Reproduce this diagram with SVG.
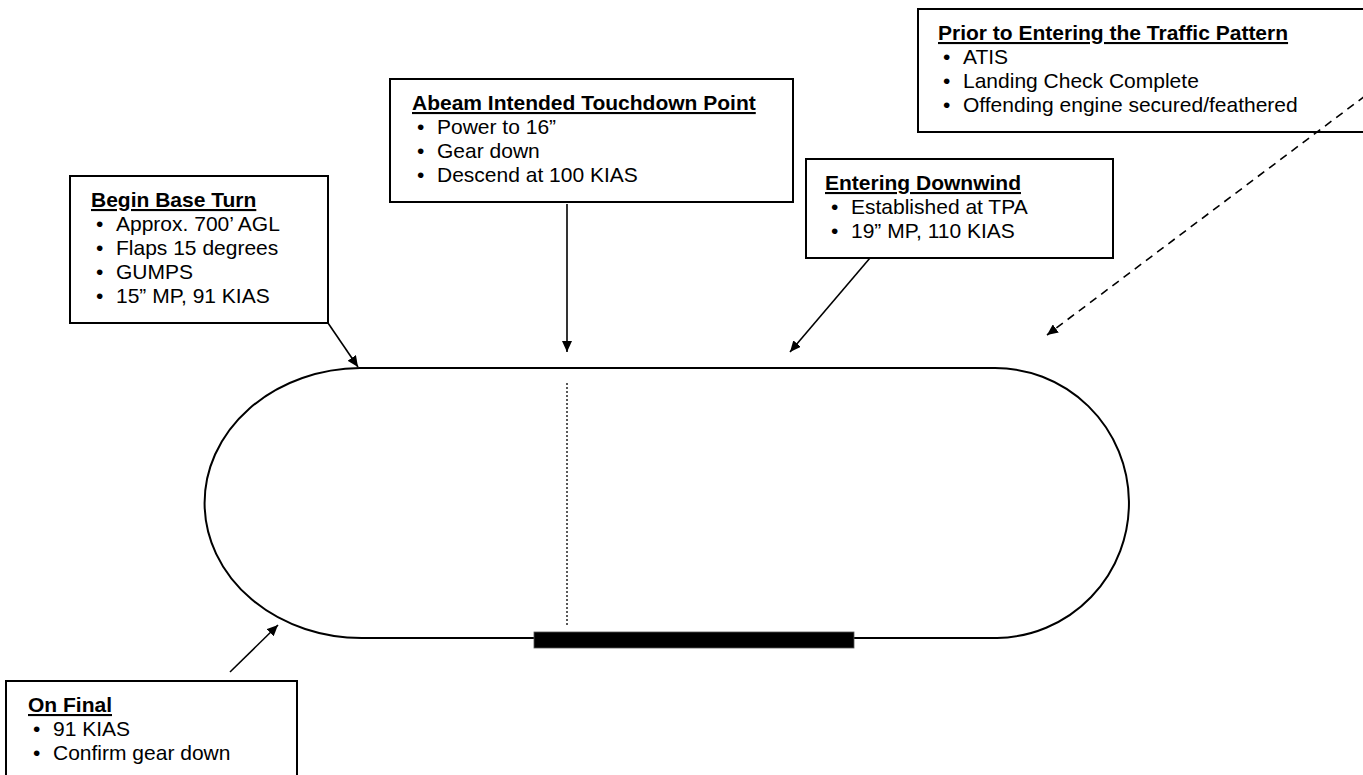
<svg xmlns="http://www.w3.org/2000/svg" width="1363" height="775" viewBox="0 0 1363 775">
<style>
.box{fill:#fff;stroke:#000;stroke-width:2}
.t{font-family:"Liberation Sans",Arial,sans-serif;font-size:21px;fill:#000}
.h{font-weight:bold;text-decoration:underline}
.c{stroke:#000;stroke-width:1.6;fill:none}
.track{stroke:#000;stroke-width:2;fill:none}
</style>
<defs>
<marker id="ah" markerUnits="userSpaceOnUse" markerWidth="12" markerHeight="10" refX="11" refY="5" orient="auto">
<path d="M0,0 L11,5 L0,10 Z" fill="#000"/>
</marker>
</defs>
<rect width="1363" height="775" fill="#fff"/>
<g id="pattern">
<path class="track" d="M360,368 L993,368 A134,135 0 0 1 997,638 L854,638 M534,638 L363,638 A157,135 0 0 1 360,368"/>
<rect id="runway" x="534" y="632" width="320" height="16" fill="#000" stroke="#555" stroke-width="0.8"/>
<line x1="567" y1="383" x2="567" y2="625" stroke="#000" stroke-width="1.3" stroke-dasharray="2 2"/>
</g>
<g id="prior">
<rect class="box" x="918" y="9" width="460" height="123"/>
<text class="t h" x="938" y="40">Prior to Entering the Traffic Pattern</text>
<text class="t" x="943" y="64">•</text><text class="t" x="963" y="64">ATIS</text>
<text class="t" x="943" y="88">•</text><text class="t" x="963" y="88">Landing Check Complete</text>
<text class="t" x="943" y="112">•</text><text class="t" x="963" y="112">Offending engine secured/feathered</text>
</g>
<g id="abeam">
<rect class="box" x="390" y="79" width="403" height="123"/>
<text class="t h" x="412" y="110">Abeam Intended Touchdown Point</text>
<text class="t" x="417" y="134">•</text><text class="t" x="437" y="134">Power to 16”</text>
<text class="t" x="417" y="158">•</text><text class="t" x="437" y="158">Gear down</text>
<text class="t" x="417" y="182">•</text><text class="t" x="437" y="182">Descend at 100 KIAS</text>
</g>
<g id="base">
<rect class="box" x="70" y="176" width="258" height="147"/>
<text class="t h" x="91" y="207">Begin Base Turn</text>
<text class="t" x="96" y="231">•</text><text class="t" x="116" y="231">Approx. 700’ AGL</text>
<text class="t" x="96" y="255">•</text><text class="t" x="116" y="255">Flaps 15 degrees</text>
<text class="t" x="96" y="279">•</text><text class="t" x="116" y="279">GUMPS</text>
<text class="t" x="96" y="303">•</text><text class="t" x="116" y="303">15” MP, 91 KIAS</text>
</g>
<g id="downwind">
<rect class="box" x="806" y="159" width="307" height="99"/>
<text class="t h" x="825" y="190">Entering Downwind</text>
<text class="t" x="831" y="214">•</text><text class="t" x="851" y="214">Established at TPA</text>
<text class="t" x="831" y="238">•</text><text class="t" x="851" y="238">19” MP, 110 KIAS</text>
</g>
<g id="final">
<rect class="box" x="6" y="681" width="291" height="110"/>
<text class="t h" x="28" y="712">On Final</text>
<text class="t" x="33" y="736">•</text><text class="t" x="53" y="736">91 KIAS</text>
<text class="t" x="33" y="760">•</text><text class="t" x="53" y="760">Confirm gear down</text>
</g>
<g id="connectors">
<line class="c" x1="567" y1="204" x2="567" y2="352" marker-end="url(#ah)"/>
<line class="c" x1="328" y1="323" x2="358" y2="367" marker-end="url(#ah)"/>
<line class="c" x1="870" y1="258" x2="790" y2="352" marker-end="url(#ah)"/>
<line class="c" x1="230" y1="672" x2="278" y2="625" marker-end="url(#ah)"/>
<line class="c" x1="1365" y1="96" x2="1047" y2="335" stroke-dasharray="8 6" marker-end="url(#ah)"/>
</g>
</svg>
